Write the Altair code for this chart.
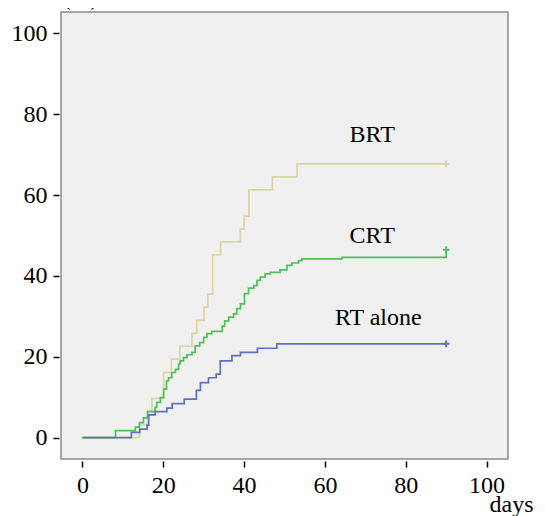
import altair as alt
import pandas as pd

# ---- data ----
brt_days = [0, 14.1, 16.2, 17.2, 20.1, 22.0, 24.1, 27.1, 28.3, 30.1, 31.0, 32.2, 34.2, 39.1, 40.0, 41.2, 47.0, 53.1, 90]
brt_vals = [0, 3.2, 6.5, 9.7, 16.1, 19.4, 22.6, 25.8, 29.0, 32.3, 35.5, 45.2, 48.4, 51.6, 54.8, 61.3, 64.5, 67.7, 67.7]

crt_days = [0, 8.2, 13.1, 14.1, 15.1, 16.1, 18.0, 18.4, 19.3, 20.1, 20.8, 21.3, 22.1, 23.0, 23.8, 24.2,
            25.0, 25.9, 27.1, 27.9, 29.0, 30.0, 30.8, 32.0, 34.6, 35.2, 36.2, 37.4, 38.2, 39.1, 40.1,
            41.1, 42.4, 43.2, 44.0, 45.2, 46.5, 48.9, 50.6, 51.8, 53.5, 54.3, 64.2, 90, 90]
crt_vals = [0, 1.7, 2.6, 3.7, 4.9, 6.4, 7.5, 8.7, 9.9, 12.0, 14.0, 14.8, 16.1, 16.9, 18.2, 19.0,
            19.8, 20.5, 21.1, 22.7, 23.5, 24.8, 25.7, 26.3, 27.6, 28.9, 29.8, 30.6, 31.9, 33.1, 35.6,
            37.0, 37.6, 38.9, 39.7, 40.5, 40.9, 41.5, 42.6, 43.2, 43.8, 44.2, 44.6, 44.6, 46.5]

rt_days = [0, 12.1, 14.2, 16.0, 16.4, 18.0, 20.9, 22.2, 25.2, 28.2, 29.2, 31.2, 33.1, 34.1, 37.0, 39.1, 43.3, 48.1, 90]
rt_vals = [0, 1.3, 2.1, 3.1, 5.6, 6.4, 7.3, 8.4, 9.5, 11.7, 13.6, 14.8, 15.7, 19.0, 20.3, 21.1, 22.1, 23.2, 23.2]

groups = ["BRT", "CRT", "RT alone"]
colors = ["#dbd5a4", "#4fc055", "#5d72c2"]

censor_days = [90, 90, 90]
censor_vals = [67.7, 46.5, 23.2]

label_x = [71.7, 71.7, 73.2]
label_y = [74.8, 50.0, 29.5]

tick_vals = [0, 20, 40, 60, 80, 100]

rows = []
for g, d, v in [("BRT", brt_days, brt_vals), ("CRT", crt_days, crt_vals), ("RT alone", rt_days, rt_vals)]:
    for i, (a, b) in enumerate(zip(d, v)):
        rows.append({"group": g, "order": i, "days": a, "pct": b})
lines_df = pd.DataFrame(rows)
cens_df = pd.DataFrame({"group": groups, "days": censor_days, "pct": censor_vals})
lab_df = pd.DataFrame({"group": groups, "days": label_x, "pct": label_y})

FONT = "Liberation Serif"

xs = alt.Scale(domain=[-5.3, 105.3], nice=False, zero=False)
ys = alt.Scale(domain=[-5.3, 105.3], nice=False, zero=False)
cs = alt.Scale(domain=groups, range=colors)

x_axis = alt.Axis(values=tick_vals, title="days", titleFont=FONT, titleFontSize=24,
                  titleFontWeight="normal", titleAlign="left", titleAnchor="start",
                  titleX=428, titleY=50, titleBaseline="alphabetic")
y_axis = alt.Axis(values=tick_vals, title="Patients (%)", titleFont=FONT, titleFontSize=24,
                  titleFontWeight="normal", titleAngle=0, titleAlign="right",
                  titleX=39, titleY=-8, titleBaseline="alphabetic")

base = alt.Chart(lines_df)

lines = base.mark_line(interpolate="step-after", strokeWidth=1.7).encode(
    x=alt.X("days:Q", scale=xs, axis=x_axis),
    y=alt.Y("pct:Q", scale=ys, axis=y_axis),
    color=alt.Color("group:N", scale=cs, legend=None),
    order="order:Q",
    detail="group:N",
)

marks = alt.Chart(cens_df).mark_point(
    shape="M -1 0 L 1 0 M 0 -1 L 0 1", size=45, filled=False, strokeWidth=2, opacity=1
).encode(
    x=alt.X("days:Q", scale=xs),
    y=alt.Y("pct:Q", scale=ys),
    color=alt.Color("group:N", scale=cs, legend=None),
)

labels = alt.Chart(lab_df).mark_text(font=FONT, fontSize=24, color="black", align="center",
                                     baseline="middle").encode(
    x=alt.X("days:Q", scale=xs),
    y=alt.Y("pct:Q", scale=ys),
    text="group:N",
)

chart = alt.layer(lines, marks, labels).properties(
    width=447, height=447,
    autosize=alt.AutoSizeParams(type="none"),
    padding={"left": 53, "top": 4, "right": 29, "bottom": 57},
).configure_view(
    fill="#f0f0f0", stroke="#8a8a8a", strokeWidth=1.5
).configure_axis(
    grid=False, domain=False, tickColor="black", tickSize=6, tickWidth=1.5, offset=2,
    labelFont=FONT, labelFontSize=24, labelColor="black", labelPadding=6,
    titleColor="black",
)

chart.save("out.html", embed_options={"renderer": "svg", "actions": False})
